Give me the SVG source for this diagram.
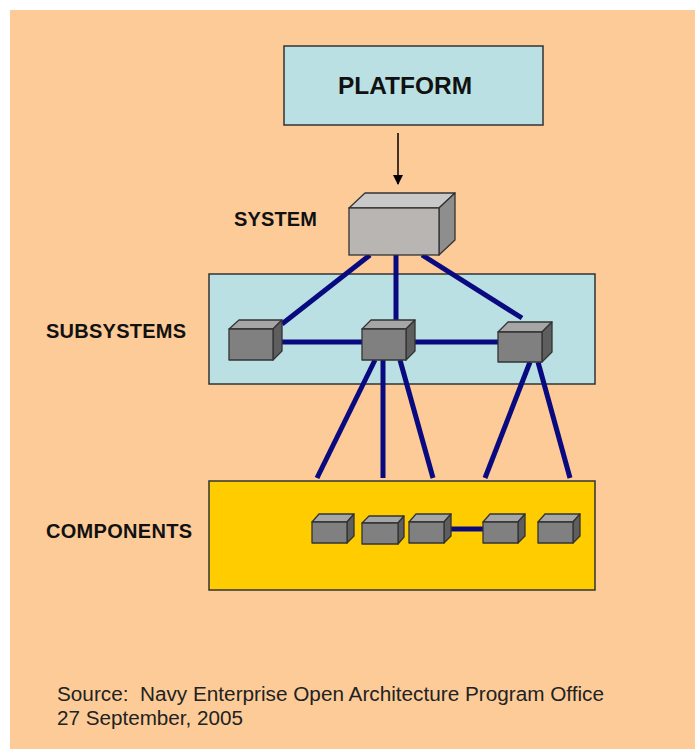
<svg xmlns="http://www.w3.org/2000/svg" width="695" height="749" viewBox="0 0 695 749">
<style>
.lbl{font-family:"Liberation Sans",Arial,sans-serif;font-weight:bold;font-size:20px;fill:#111}
.src{font-family:"Liberation Sans",Arial,sans-serif;font-size:19.5px;fill:#222}
.box{stroke:#333;stroke-width:1.5}
.conn{stroke:#0A0A80;stroke-width:5;fill:none}
.front{fill:#808080;stroke:#333;stroke-width:1.3;stroke-linejoin:round}
.top{fill:#A6A6A6;stroke:#333;stroke-width:1.3;stroke-linejoin:round}
.side{fill:#5E5E5E;stroke:#333;stroke-width:1.3;stroke-linejoin:round}
.sfront{fill:#B8B5B2;stroke:#333;stroke-width:1.3}
.stop{fill:#C9C9C9;stroke:#333;stroke-width:1.3;stroke-linejoin:round}
.sside{fill:#8E8E8E;stroke:#333;stroke-width:1.3;stroke-linejoin:round}
</style>
<defs>
<marker id="arr" markerWidth="10" markerHeight="10" refX="9" refY="5" orient="auto" markerUnits="userSpaceOnUse">
<path d="M0,0 L10,5 L0,10 Z" fill="#000"/>
</marker>
</defs>
<rect x="0" y="0" width="695" height="749" fill="#FFFFFF"/>
<rect x="10" y="10" width="685" height="739" fill="#FDCB98"/>

<g id="subsystems-panel">
<rect class="box" x="209" y="274" width="386" height="110" fill="#BAE0E3"/>
</g>
<g id="components-panel">
<rect class="box" x="209" y="481" width="386" height="109" fill="#FFCC00"/>
</g>

<g id="connectors">
<line x1="398" y1="133" x2="398" y2="184" stroke="#000" stroke-width="1.5" marker-end="url(#arr)"/>
<line class="conn" x1="370" y1="255" x2="282" y2="324"/>
<line class="conn" x1="396" y1="255" x2="396" y2="320"/>
<line class="conn" x1="422" y1="255" x2="522" y2="318"/>
<line class="conn" x1="273" y1="342" x2="362" y2="342"/>
<line class="conn" x1="406" y1="342" x2="498" y2="342"/>
<line class="conn" x1="375" y1="360" x2="317" y2="478"/>
<line class="conn" x1="383" y1="360" x2="383" y2="478"/>
<line class="conn" x1="400" y1="360" x2="433" y2="478"/>
<line class="conn" x1="530" y1="362" x2="485" y2="478"/>
<line class="conn" x1="538" y1="362" x2="570" y2="478"/>
<line class="conn" x1="444" y1="529" x2="483" y2="529"/>
</g>

<g id="platform">
<rect class="box" x="284" y="46" width="259" height="79" fill="#BAE0E3"/>
<text class="lbl" x="405" y="94" text-anchor="middle" textLength="134" lengthAdjust="spacingAndGlyphs" style="font-size:24px">PLATFORM</text>
</g>

<g id="system">
<path class="stop" d="M349,208 L365,193 L455,193 L439,208 Z"/>
<path class="sside" d="M439,208 L455,193 L455,240 L439,255 Z"/>
<rect class="sfront" x="349" y="208" width="90" height="47"/>
<text class="lbl" x="234" y="226" textLength="83">SYSTEM</text>
</g>

<g id="subsystem-1">
<path class="top" d="M229,329 L239,320 L282,320 L273,329 Z"/>
<path class="side" d="M273,329 L282,320 L282,351 L273,360 Z"/>
<rect class="front" x="229" y="329" width="44" height="31"/>
</g>
<g id="subsystem-2">
<path class="top" d="M362,329 L371,320 L415,320 L406,329 Z"/>
<path class="side" d="M406,329 L415,320 L415,351 L406,360 Z"/>
<rect class="front" x="362" y="329" width="44" height="31"/>
</g>
<g id="subsystem-3">
<path class="top" d="M498,332 L508,322 L552,322 L542,332 Z"/>
<path class="side" d="M542,332 L552,322 L552,352 L542,362 Z"/>
<rect class="front" x="498" y="332" width="44" height="30"/>
</g>
<g id="subsystems-label">
<text class="lbl" x="46" y="338" textLength="140">SUBSYSTEMS</text>
</g>

<g id="component-1">
<path class="top" d="M312,522 L319,514 L354,514 L347,522 Z"/>
<path class="side" d="M347,522 L354,514 L354,536 L347,543 Z"/>
<rect class="front" x="312" y="522" width="35" height="21"/>
</g>
<g id="component-2">
<path class="top" d="M362,523 L369,516 L404,516 L398,523 Z"/>
<path class="side" d="M398,523 L404,516 L404,537 L398,544 Z"/>
<rect class="front" x="362" y="523" width="36" height="21"/>
</g>
<g id="component-3">
<path class="top" d="M409,522 L416,514 L451,514 L444,522 Z"/>
<path class="side" d="M444,522 L451,514 L451,536 L444,543 Z"/>
<rect class="front" x="409" y="522" width="35" height="21"/>
</g>
<g id="component-4">
<path class="top" d="M483,522 L490,514 L525,514 L518,522 Z"/>
<path class="side" d="M518,522 L525,514 L525,536 L518,543 Z"/>
<rect class="front" x="483" y="522" width="35" height="21"/>
</g>
<g id="component-5">
<path class="top" d="M538,522 L545,514 L580,514 L573,522 Z"/>
<path class="side" d="M573,522 L580,514 L580,536 L573,543 Z"/>
<rect class="front" x="538" y="522" width="35" height="21"/>
</g>
<g id="components-label">
<text class="lbl" x="46" y="538" textLength="146">COMPONENTS</text>
</g>

<g id="source">
<text class="src" x="57" y="701" textLength="547" lengthAdjust="spacingAndGlyphs" xml:space="preserve">Source:  Navy Enterprise Open Architecture Program Office</text>
<text class="src" x="57" y="725" textLength="186" lengthAdjust="spacingAndGlyphs">27 September, 2005</text>
</g>
</svg>
